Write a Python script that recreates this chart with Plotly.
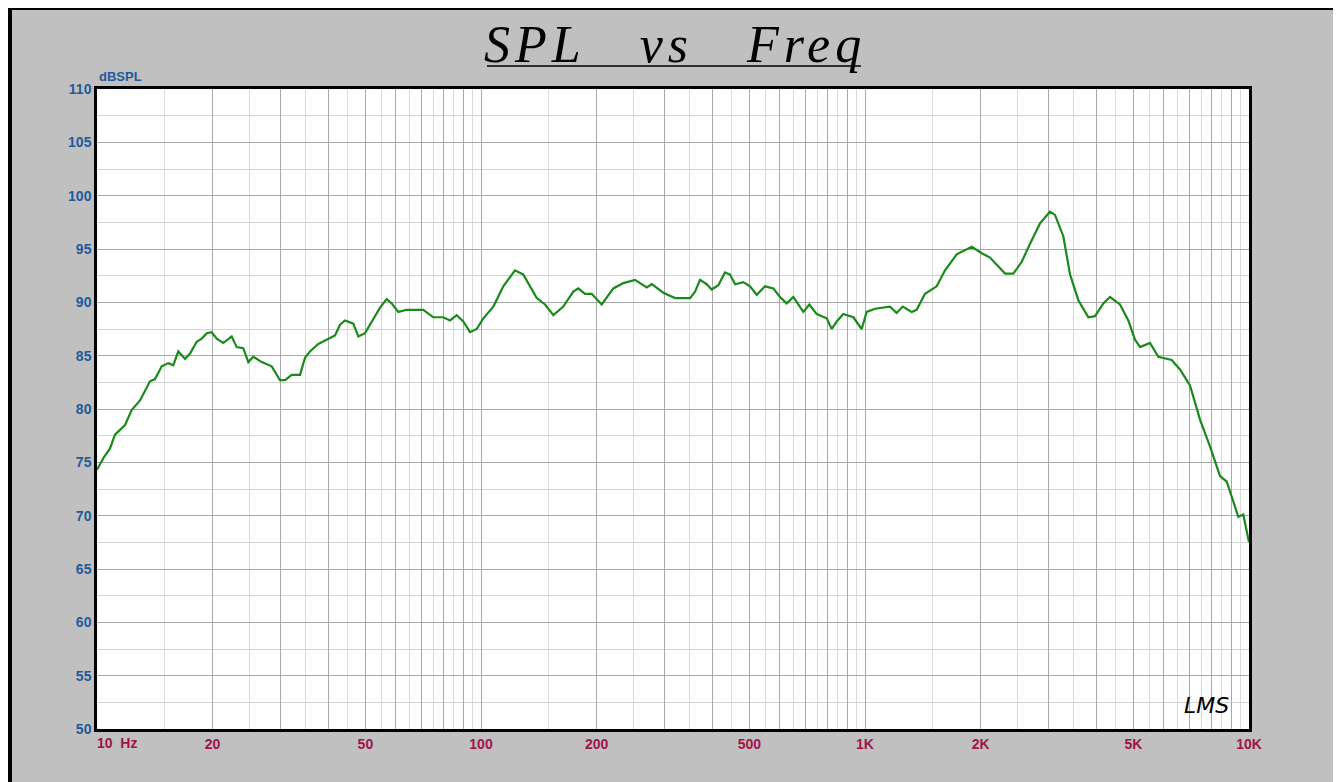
import plotly.graph_objects as go

# ---------------- data ----------------
freq_hz = [10.0, 10.43, 10.81, 11.14, 11.83, 12.31, 12.94, 13.74, 14.16, 14.74, 15.34, 15.80,
           16.28, 16.95, 17.47, 18.18, 18.74, 19.31, 19.89, 20.50, 21.33, 22.43, 23.11, 24.04,
           24.78, 25.53, 26.85, 28.51, 29.96, 30.87, 32.14, 33.78, 34.81, 35.86, 37.70, 39.64,
           41.67, 42.94, 44.24, 46.50, 47.92, 49.88, 52.42, 54.57, 56.81, 58.54, 60.90, 64.05,
           70.75, 75.12, 79.75, 83.02, 86.43, 89.92, 93.62, 97.45, 101.4, 107.7, 114.3, 122.6,
           128.9, 139.7, 146.8, 154.3, 163.8, 173.9, 179.2, 186.5, 194.2, 206.2, 221.1, 234.8,
           251.8, 270.1, 278.4, 298.4, 320.1, 350.3, 360.9, 371.9, 387.1, 398.9, 415.0, 432.0,
           445.1, 458.7, 482.1, 501.9, 522.4, 549.1, 577.1, 600.8, 625.4, 650.6, 690.8, 716.1,
           748.6, 794.8, 819.0, 843.9, 877.9, 932.3, 980.3, 1010, 1062, 1162, 1209, 1254,
           1323, 1363, 1433, 1537, 1616, 1733, 1897, 2014, 2116, 2203, 2316, 2434,
           2560, 2690, 2856, 3032, 3124, 3284, 3420, 3594, 3816, 3972, 4175, 4346,
           4614, 4850, 5049, 5203, 5523, 5805, 6290, 6611, 7020, 7454, 7914, 8404,
           8748, 9378, 9664, 10000]
spl_db = [74.3, 75.5, 76.3, 77.6, 78.5, 79.9, 80.8, 82.6, 82.8, 84.0, 84.3, 84.1,
          85.4, 84.7, 85.2, 86.3, 86.6, 87.1, 87.2, 86.6, 86.2, 86.8, 85.8, 85.7,
          84.4, 84.9, 84.4, 84.0, 82.7, 82.7, 83.2, 83.2, 84.8, 85.4, 86.1, 86.5,
          86.9, 87.9, 88.3, 88.0, 86.8, 87.1, 88.5, 89.5, 90.3, 89.9, 89.1, 89.3,
          89.3, 88.6, 88.6, 88.3, 88.8, 88.2, 87.2, 87.5, 88.5, 89.6, 91.5, 93.0,
          92.6, 90.4, 89.8, 88.8, 89.6, 91.0, 91.3, 90.8, 90.8, 89.8, 91.3, 91.8,
          92.1, 91.4, 91.7, 90.9, 90.4, 90.4, 91.0, 92.1, 91.7, 91.2, 91.6, 92.8,
          92.6, 91.7, 91.9, 91.5, 90.7, 91.5, 91.3, 90.5, 89.9, 90.5, 89.1, 89.8,
          88.9, 88.5, 87.5, 88.2, 88.9, 88.6, 87.5, 89.1, 89.4, 89.6, 89.0, 89.6,
          89.1, 89.3, 90.8, 91.5, 93.0, 94.5, 95.2, 94.6, 94.2, 93.5, 92.7, 92.7,
          93.8, 95.5, 97.4, 98.5, 98.2, 96.2, 92.6, 90.2, 88.6, 88.7, 89.9, 90.5,
          89.8, 88.3, 86.5, 85.8, 86.2, 84.9, 84.6, 83.7, 82.2, 79.0, 76.5, 73.7,
          73.2, 69.9, 70.1, 67.5]

x_major_vals = [m * d for d in (10, 100, 1000) for m in range(1, 10)] + [10000]
x_label_map = {20: "20", 50: "50", 100: "100", 200: "200", 500: "500",
               1000: "1K", 2000: "2K", 5000: "5K", 10000: "10K"}
x_minor_vals = [m * d for d in (10, 100, 1000) for m in (1.5, 2.5, 3.5, 4.5, 5.5, 6.5, 7.5, 8.5, 9.5)]
y_tick_vals = list(range(50, 111, 5))

# ---------------- layout helpers (page pixel -> paper) ----------------
OFF = 8                      # default body margin of the html page
W, H = 1341 - OFF, 782 - OFF
L, R, T, B = 97 - OFF, 92, 89 - OFF, 53
PW, PH = W - L - R, H - T - B


def px(x):
    return (x - OFF - L) / PW


def py(y):
    return (H - B - (y - OFF)) / PH


fig = go.Figure()
fig.add_trace(go.Scatter(x=freq_hz, y=spl_db, mode="lines",
                         line=dict(color="#1a8a1a", width=2.2), hoverinfo="x+y",
                         showlegend=False))

narrow = "Liberation Sans Narrow, Arial Narrow, Liberation Sans, Arial"
label_font = dict(family=narrow, size=14, color="#a0144a")
fig.update_xaxes(type="log", range=[1, 4],
                 tickmode="array", tickvals=x_major_vals,
                 ticktext=["<b>%s</b>" % x_label_map[v] if v in x_label_map else ""
                           for v in x_major_vals],
                 tickfont=label_font, ticks="",
                 showgrid=True, gridcolor="#a8a8a8", gridwidth=1,
                 minor=dict(tickmode="array", tickvals=x_minor_vals, showgrid=True,
                            gridcolor="#dadada", gridwidth=1, ticks=""),
                 showline=True, linecolor="black", linewidth=2.5, mirror=True,
                 zeroline=False)
fig.update_yaxes(range=[50, 110], tickmode="array", tickvals=y_tick_vals,
                 ticktext=["<b>%d</b>" % v for v in y_tick_vals],
                 tickfont=dict(family=narrow, size=14, color="#1f5a9a"),
                 ticks="", showgrid=True, gridcolor="#a8a8a8", gridwidth=1,
                 minor=dict(dtick=2.5, showgrid=True, gridcolor="#d4d4d4", gridwidth=1, ticks=""),
                 showline=True, linecolor="black", linewidth=2.5, mirror=True,
                 zeroline=False)

shapes = [
    # black frame (left, top, right)
    dict(type="rect", xref="paper", yref="paper", x0=px(0), x1=px(12), y0=py(800), y1=py(3),
         fillcolor="black", line=dict(width=0), layer="below"),
    dict(type="rect", xref="paper", yref="paper", x0=px(0), x1=px(1350), y0=py(10), y1=py(0),
         fillcolor="black", line=dict(width=0), layer="below"),
    dict(type="rect", xref="paper", yref="paper", x0=px(1334), x1=px(1350), y0=py(800), y1=py(3),
         fillcolor="black", line=dict(width=0), layer="below"),
    # title underline
    dict(type="line", xref="paper", yref="paper", x0=px(487), x1=px(861), y0=py(66), y1=py(66),
         line=dict(color="black", width=1.5)),
]

annotations = [
    dict(text="<i><span style='letter-spacing:5px'>SPL&nbsp;&nbsp;&nbsp;vs&nbsp;&nbsp;&nbsp;Freq</span></i>",
         xref="paper", yref="paper",
         x=px(675), y=py(44), xanchor="center", yanchor="middle", showarrow=False,
         font=dict(family="Liberation Serif, Times New Roman, serif", size=52, color="black")),
    dict(text="<b>dBSPL</b>", xref="paper", yref="paper", x=px(97), y=py(76),
         xanchor="left", yanchor="middle", showarrow=False,
         font=dict(family=narrow, size=13, color="#1f5a9a")),
    dict(text="<b>10&nbsp;&nbsp;Hz</b>", xref="paper", yref="paper", x=px(95), y=py(743),
         xanchor="left", yanchor="middle", showarrow=False, font=label_font),
    dict(text="<i>LMS</i>", xref="paper", yref="paper", x=px(1206), y=py(705),
         xanchor="center", yanchor="middle", showarrow=False,
         font=dict(family="DejaVu Sans, sans-serif", size=22, color="black")),
]

fig.update_layout(width=W, height=H, margin=dict(l=L, r=R, t=T, b=B, autoexpand=False),
                  paper_bgcolor="#c0c0c0", plot_bgcolor="white",
                  shapes=shapes, annotations=annotations, showlegend=False)

fig.write_html("out.html")
